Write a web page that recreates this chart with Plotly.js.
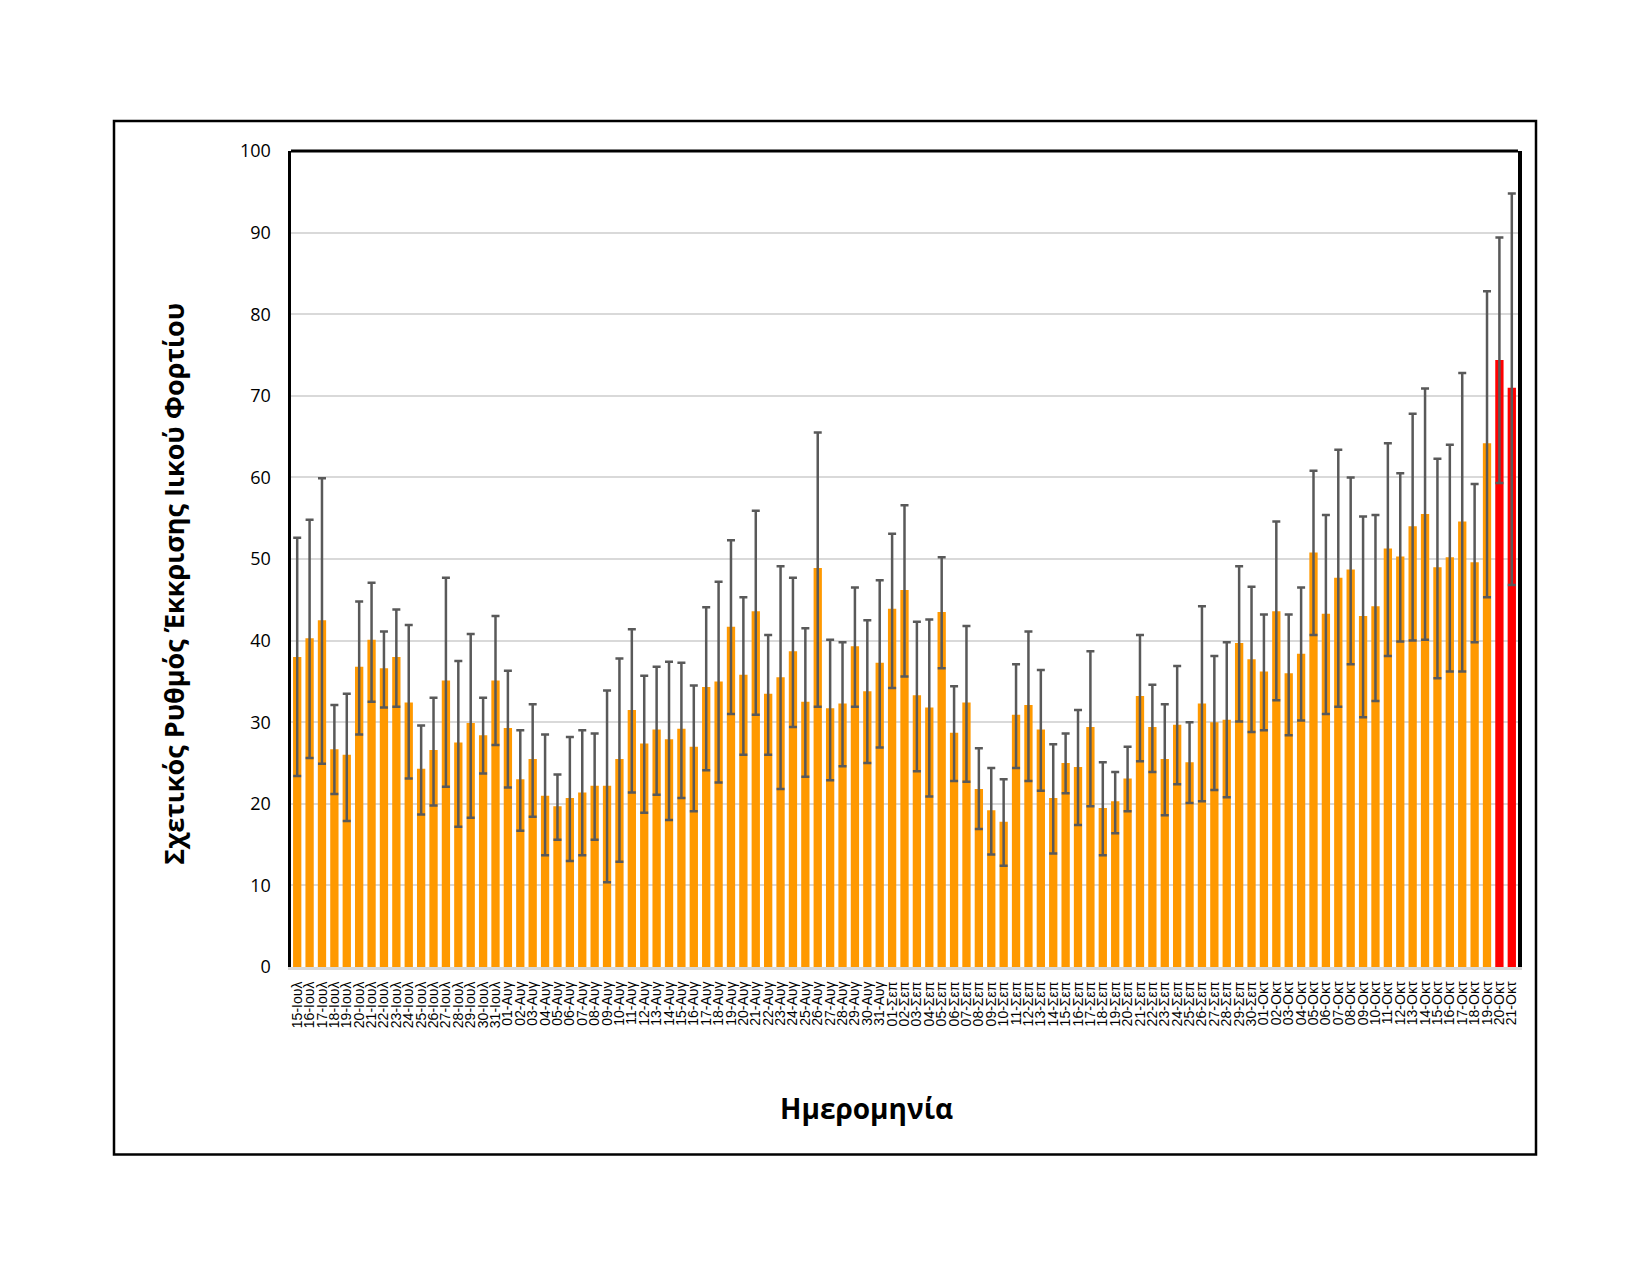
<!DOCTYPE html>
<html>
<head>
<meta charset="utf-8">
<script src="https://cdn.plot.ly/plotly-3.0.1.min.js"></script>
<style>
  html, body { margin: 0; padding: 0; background: #ffffff; }
  #chart { width: 1650px; height: 1275px; }
</style>
</head>
<body>
<div id="chart"></div>
<script>
const dates = [
  "15-Ιουλ","16-Ιουλ","17-Ιουλ","18-Ιουλ","19-Ιουλ","20-Ιουλ","21-Ιουλ","22-Ιουλ","23-Ιουλ","24-Ιουλ",
  "25-Ιουλ","26-Ιουλ","27-Ιουλ","28-Ιουλ","29-Ιουλ","30-Ιουλ","31-Ιουλ",
  "01-Αυγ","02-Αυγ","03-Αυγ","04-Αυγ","05-Αυγ","06-Αυγ","07-Αυγ","08-Αυγ","09-Αυγ","10-Αυγ",
  "11-Αυγ","12-Αυγ","13-Αυγ","14-Αυγ","15-Αυγ","16-Αυγ","17-Αυγ","18-Αυγ","19-Αυγ","20-Αυγ",
  "21-Αυγ","22-Αυγ","23-Αυγ","24-Αυγ","25-Αυγ","26-Αυγ","27-Αυγ","28-Αυγ","29-Αυγ","30-Αυγ","31-Αυγ",
  "01-Σεπ","02-Σεπ","03-Σεπ","04-Σεπ","05-Σεπ","06-Σεπ","07-Σεπ","08-Σεπ","09-Σεπ","10-Σεπ",
  "11-Σεπ","12-Σεπ","13-Σεπ","14-Σεπ","15-Σεπ","16-Σεπ","17-Σεπ","18-Σεπ","19-Σεπ","20-Σεπ",
  "21-Σεπ","22-Σεπ","23-Σεπ","24-Σεπ","25-Σεπ","26-Σεπ","27-Σεπ","28-Σεπ","29-Σεπ","30-Σεπ",
  "01-Οκτ","02-Οκτ","03-Οκτ","04-Οκτ","05-Οκτ","06-Οκτ","07-Οκτ","08-Οκτ","09-Οκτ","10-Οκτ",
  "11-Οκτ","12-Οκτ","13-Οκτ","14-Οκτ","15-Οκτ","16-Οκτ","17-Οκτ","18-Οκτ","19-Οκτ","20-Οκτ","21-Οκτ"
];

const values = [
  38.0,40.3,42.5,26.7,26.0,36.8,40.1,36.6,38.0,32.4,
  24.3,26.6,35.1,27.5,29.9,28.4,35.1,
  29.3,23.0,25.5,21.0,19.7,20.7,21.4,22.2,22.2,25.5,
  31.5,27.4,29.1,27.9,29.2,27.0,34.3,35.0,41.7,35.8,
  43.6,33.5,35.5,38.7,32.5,48.9,31.7,32.3,39.3,33.8,37.3,
  43.9,46.2,33.3,31.8,43.5,28.7,32.4,21.8,19.2,17.8,
  30.9,32.1,29.1,20.7,25.0,24.5,29.4,19.5,20.3,23.1,
  33.2,29.4,25.5,29.7,25.1,32.3,30.0,30.3,39.7,37.7,
  36.2,43.6,36.0,38.4,50.8,43.3,47.7,48.7,43.0,44.2,
  51.3,50.3,54.0,55.5,49.0,50.2,54.6,49.6,64.2,74.4,71.0
];

const upper = [
  52.6,54.8,59.9,32.1,33.5,44.8,47.1,41.1,43.8,41.9,
  29.6,33.0,47.7,37.5,40.8,33.0,43.0,
  36.3,29.0,32.2,28.5,23.6,28.2,29.0,28.6,33.9,37.8,
  41.4,35.7,36.8,37.4,37.3,34.5,44.1,47.2,52.3,45.3,
  55.9,40.7,49.1,47.7,41.5,65.5,40.1,39.8,46.5,42.5,47.4,
  53.1,56.6,42.3,42.6,50.2,34.4,41.8,26.8,24.4,23.0,
  37.1,41.1,36.4,27.3,28.6,31.5,38.7,25.1,23.9,27.0,
  40.7,34.6,32.2,36.9,30.0,44.2,38.1,39.8,49.1,46.6,
  43.2,54.6,43.2,46.5,60.8,55.4,63.4,60.0,55.2,55.4,
  64.2,60.5,67.8,70.9,62.3,64.0,72.8,59.2,82.8,89.4,94.8
];

const lower = [
  23.4,25.6,24.9,21.2,17.9,28.5,32.5,31.8,31.9,23.1,
  18.7,19.8,22.1,17.2,18.3,23.7,27.2,
  22.0,16.7,18.4,13.7,15.6,13.0,13.7,15.6,10.4,12.9,
  21.4,18.9,21.1,18.0,20.7,19.1,24.1,22.6,31.0,26.0,
  30.9,26.0,21.8,29.4,23.3,31.9,22.9,24.6,31.9,25.0,26.9,
  34.2,35.6,24.0,20.9,36.6,22.8,22.7,16.9,13.8,12.4,
  24.4,22.8,21.6,13.9,21.3,17.4,19.7,13.7,16.4,19.1,
  25.2,23.9,18.6,22.4,20.1,20.3,21.7,20.8,30.1,28.8,
  29.0,32.7,28.4,30.2,40.7,31.0,31.9,37.1,30.6,32.6,
  38.1,39.9,40.0,40.1,35.4,36.2,36.2,39.8,45.3,59.3,46.8
];

const highlightedDates = ["20-Οκτ","21-Οκτ"];
const yTickVals = [0,10,20,30,40,50,60,70,80,90,100];
const xTitle = "Ημερομηνία";
const yTitle = "Σχετικός Ρυθμός Έκκρισης Ιικού Φορτίου";

const ORANGE = "#FF9900";
const RED = "#FF0000";
const barColors = dates.map(d => highlightedDates.includes(d) ? RED : ORANGE);

const trace = {
  type: "bar",
  x: dates,
  y: values,
  marker: { color: barColors, line: { width: 0 } },
  error_y: {
    type: "data",
    symmetric: false,
    array: upper.map((u, i) => u - values[i]),
    arrayminus: lower.map((l, i) => values[i] - l),
    color: "#595959",
    thickness: 2.5,
    width: 4,
    visible: true
  },
  hoverinfo: "x+y"
};

// plot area in page pixels
const W = 1650, H = 1275;
const L = 291, R = 1518, T = 151, B = 967.5;
const px2x = p => (p - L) / (R - L);
const py2y = p => (B - p) / (B - T);

const titleFont = { family: "Open Sans, Noto Sans, sans-serif", size: 28, weight: "bold", color: "#000000" };

const layout = {
  width: W,
  height: H,
  margin: { l: L, r: W - R, t: T, b: H - B, pad: 0 },
  paper_bgcolor: "#ffffff",
  plot_bgcolor: "#ffffff",
  bargap: 0.33,
  showlegend: false,
  font: { family: "Open Sans, Liberation Sans, sans-serif", color: "#000000" },
  xaxis: {
    type: "category",
    tickmode: "array",
    tickvals: dates,
    ticktext: dates,
    tickangle: -90,
    tickfont: { family: "Liberation Sans, Arial, sans-serif", size: 14, color: "#000000" },
    ticks: "",
    ticklabelstandoff: 6,
    showline: true,
    linecolor: "#D9D9D9",
    linewidth: 3,
    showgrid: false,
    zeroline: false,
    automargin: false
  },
  yaxis: {
    range: [0, 100],
    tickmode: "array",
    tickvals: yTickVals,
    ticktext: yTickVals.map(String),
    tickfont: { family: "Open Sans, DejaVu Sans, sans-serif", size: 18, color: "#000000" },
    ticks: "",
    ticklabelstandoff: 13,
    showline: true,
    linecolor: "#000000",
    linewidth: 3.5,
    mirror: true,
    showgrid: true,
    gridcolor: "#D9D9D9",
    gridwidth: 2,
    zeroline: false,
    automargin: false
  },
  annotations: [
    { text: xTitle, xref: "paper", yref: "paper", x: px2x(866), y: py2y(1109),
      xanchor: "center", yanchor: "middle", showarrow: false, font: titleFont },
    { text: yTitle, xref: "paper", yref: "paper", x: px2x(174), y: py2y(584),
      xanchor: "center", yanchor: "middle", textangle: -90, showarrow: false,
      font: Object.assign({}, titleFont, { size: 27 }) }
  ],
  shapes: [
    { type: "line", xref: "paper", yref: "paper", x0: 0, x1: 1, y0: 1, y1: 1,
      line: { color: "#000000", width: 3 } },
    { type: "rect", xref: "paper", yref: "paper",
      x0: px2x(114), x1: px2x(1536), y0: py2y(1155), y1: py2y(121),
      line: { color: "#000000", width: 2.5 }, fillcolor: "rgba(0,0,0,0)", layer: "above" }
  ]
};

Plotly.newPlot("chart", [trace], layout, { displayModeBar: false, staticPlot: true });
</script>
</body>
</html>
